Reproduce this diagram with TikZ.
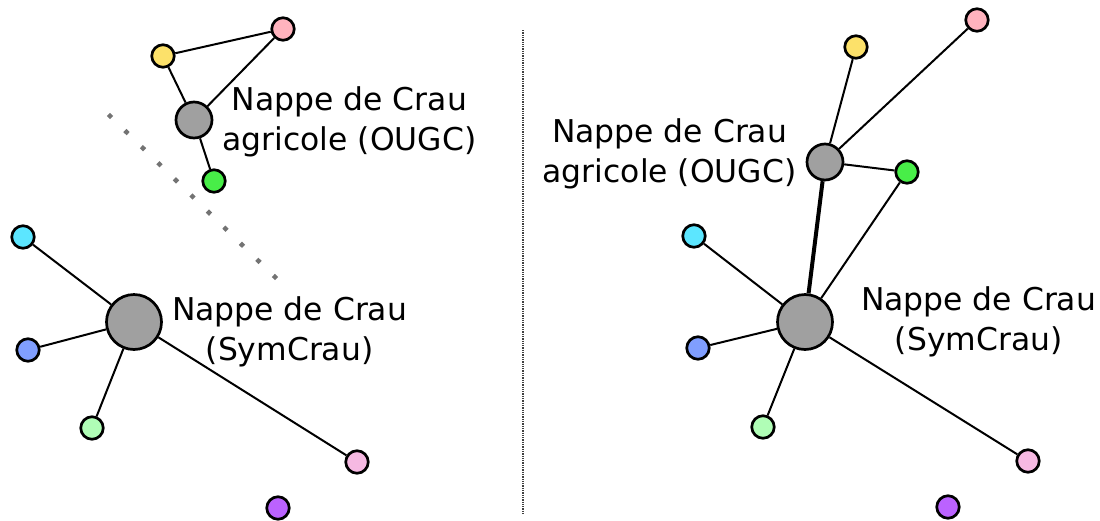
\documentclass[tikz,border=0pt]{standalone}
\usepackage{fontspec}
\setsansfont{DejaVu Sans}
\usetikzlibrary{positioning}
\definecolor{nodegray}{HTML}{A0A0A0}
\definecolor{softpink}{HTML}{FFB3BE}
\definecolor{softyellow}{HTML}{FCE16A}
\definecolor{brightgreen}{HTML}{48EE48}
\definecolor{softcyan}{HTML}{5CE6FF}
\definecolor{softblue}{HTML}{809EFF}
\definecolor{palegreen}{HTML}{B0FDB6}
\definecolor{palepink}{HTML}{F6B9E2}
\definecolor{violet}{HTML}{BB62FF}

\begin{document}
\begin{tikzpicture}[
  x=1pt, y=-1pt,
  actor/.style={circle, draw=black, line width=2.7pt, inner sep=0pt, minimum size=22.5pt},
  hub/.style={actor, fill=nodegray, minimum size=36pt},
  bighub/.style={actor, fill=nodegray, minimum size=55pt},
  link/.style={line width=2pt},
  strong/.style={line width=4pt},
  caption/.style={align=center, inner sep=0pt, font=\sffamily\fontsize{31.4}{40}\selectfont},
]
\useasboundingbox (0,0) rectangle (1100,520);

% separator between the two situations
\draw[black!75, line width=1.3pt, densely dotted] (523,30) -- (523,515);

% left: before
\draw[black!55, line width=4.5pt, dash pattern=on 4.5pt off 18.55pt] (108.4,114.4) -- (276.6,278.6);

\node[hub] (ougcA) at (194,120) {};
\node[actor, fill=softpink] (pinkA) at (283,29) {};
\node[actor, fill=softyellow] (yellowA) at (163,56) {};
\node[actor, fill=brightgreen] (greenA) at (214,181) {};
\node[caption, right=9pt of ougcA, yshift=-2pt] (labOugcA) {Nappe de Crau\\agricole (OUGC)};

\node[bighub] (symA) at (134,322) {};
\node[actor, fill=softcyan] (cyanA) at (23,237) {};
\node[actor, fill=softblue] (blueA) at (28,350) {};
\node[actor, fill=palegreen] (paleA) at (92,428) {};
\node[actor, fill=palepink] (rosyA) at (357,462) {};
\node[actor, fill=violet] (violetA) at (278,508) {};
\node[caption, right=9pt of symA, yshift=-10pt] (labSymA) {Nappe de Crau\\(SymCrau)};

\draw[link] (yellowA) -- (pinkA);
\draw[link] (yellowA) -- (ougcA);
\draw[link] (ougcA) -- (pinkA);
\draw[link] (ougcA) -- (greenA);
\draw[link] (symA) -- (cyanA);
\draw[link] (symA) -- (blueA);
\draw[link] (symA) -- (paleA);
\draw[link] (symA) -- (rosyA);

% right: after
\node[hub] (ougcB) at (825,162) {};
\node[actor, fill=softpink] (pinkB) at (977,20) {};
\node[actor, fill=softyellow] (yellowB) at (856,47) {};
\node[actor, fill=brightgreen] (greenB) at (907,172) {};
\node[caption, left=9pt of ougcB, yshift=8pt] (labOugcB) {Nappe de Crau\\agricole (OUGC)};

\node[bighub] (symB) at (805,322) {};
\node[actor, fill=softcyan] (cyanB) at (694,236) {};
\node[actor, fill=softblue] (blueB) at (698,348) {};
\node[actor, fill=palegreen] (paleB) at (763,427) {};
\node[actor, fill=palepink] (rosyB) at (1028,461) {};
\node[actor, fill=violet] (violetB) at (948,507) {};
\node[caption, right=27pt of symB] (labSymB) {Nappe de Crau\\(SymCrau)};

\draw[link] (ougcB) -- (yellowB);
\draw[link] (ougcB) -- (pinkB);
\draw[link] (ougcB) -- (greenB);
\draw[strong] (ougcB) -- (symB);
\draw[link] (symB) -- (greenB);
\draw[link] (symB) -- (cyanB);
\draw[link] (symB) -- (blueB);
\draw[link] (symB) -- (paleB);
\draw[link] (symB) -- (rosyB);

\end{tikzpicture}
\end{document}
